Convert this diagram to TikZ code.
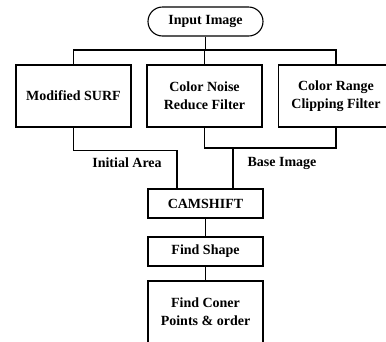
\documentclass[tikz,border=0pt]{standalone}
\usepackage{fontspec}
\setmainfont{Liberation Serif}
\begin{document}
\begin{tikzpicture}[x=1pt,y=-1pt,
  line width=1.1pt,
  every node/.style={font=\bfseries\fontsize{14}{18}\selectfont, align=center, inner sep=0pt},
  box/.style={draw, minimum width=115pt},
  term/.style={draw, minimum width=115pt, minimum height=29pt, rounded corners=14.5pt},
  lbl/.style={}]
\useasboundingbox (0,0) rectangle (386,341);
\clip (0,0) rectangle (386,341);

% process blocks
\node[term] (inp) at (205.5,21.5) {Input Image};
\node[box, minimum height=62pt] (surf)  at (73.5,96)  {Modified SURF};
\node[box, minimum height=62pt] (noise) at (204.5,96) {Color Noise\\Reduce Filter};
\node[box, minimum height=62pt] (range) at (336,96)   {Color Range\\Clipping Filter};
\node[box, minimum height=29pt] (cam)   at (205.5,203.5) {CAMSHIFT};
\node[box, minimum height=29pt] (shape) at (205.5,251.5) {Find Shape};
\node[box, minimum height=62pt] (coner) at (205.5,312) {Find Coner\\Points \& order};

% branch points
\coordinate (bus) at (205,50);
\coordinate (ia) at (177,150.5);
\coordinate (bi) at (233,148);

% fan-out from the input
\draw (inp.south) -- (inp.south |- bus);
\draw (surf.north) |- (bus) -| (range.north);
\draw (noise.north) -- (noise.north |- bus);

% merge into CAMSHIFT
\draw (surf.south) |- (ia) -- (ia |- cam.north);
\draw (noise.south) |- (bi) -| (range.south);
\draw (bi) -- (bi |- cam.north);

\node[lbl] (lia) at (127,163) {Initial Area};
\node[lbl] (lbi) at (282,163) {Base Image};

% remaining chain
\draw (cam.south) -- (shape.north);
\draw (shape.south) -- (coner.north);
\end{tikzpicture}
\end{document}
